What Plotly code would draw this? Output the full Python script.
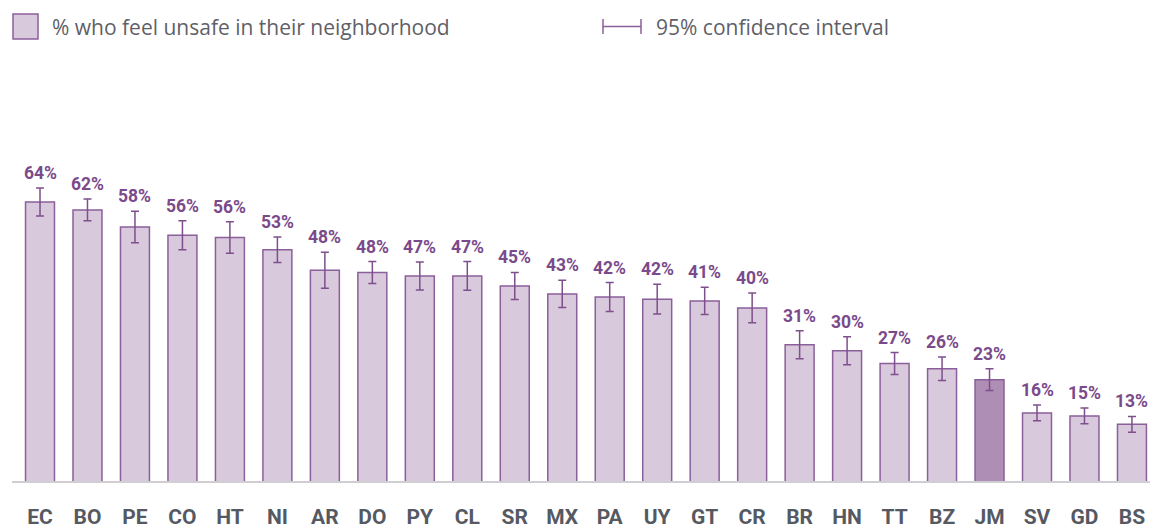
import plotly.graph_objects as go

countries = ["EC","BO","PE","CO","HT","NI","AR","DO","PY","CL","SR","MX","PA","UY","GT","CR","BR","HN","TT","BZ","JM","SV","GD","BS"]
values = [64.0,62.2,58.3,56.4,55.9,53.1,48.4,47.9,47.1,47.1,44.8,43.0,42.3,41.8,41.4,39.8,31.4,30.0,27.1,25.9,23.4,15.8,15.1,13.2]
ci_err = [3.2,2.5,3.6,3.3,3.6,2.9,4.1,2.5,3.2,3.3,3.1,3.1,3.3,3.4,3.1,3.4,3.2,3.2,2.5,2.7,2.5,1.8,1.8,1.8]
highlight = "JM"

W, H = 1150, 531
ml, mr, mt, mb = 12, 0, 60, 49
pw, ph = W - ml - mr, H - mt - mb
ymax = ph / 4.375

def px2x(px):
    return (px - ml) / pw

def py2y(py):
    return (H - mb - py) / ph

fill = ["#ae8eb4" if c == highlight else "#d8c9dc" for c in countries]

fig = go.Figure()
fig.add_trace(go.Bar(
    x=list(range(len(countries))), y=values,
    marker=dict(color=fill, line=dict(color="#8c5f9a", width=1.5)),
    error_y=dict(type="data", array=ci_err, visible=True, color="#7e4f8c", thickness=1.5, width=4),
    width=0.61, showlegend=False, hoverinfo="skip",
))

annotations = []
for i, (v, e) in enumerate(zip(values, ci_err)):
    annotations.append(dict(
        x=i, y=v + e, xref="x", yref="y", text=f"<b>{round(v)}%</b>", showarrow=False,
        yanchor="bottom", yshift=3, font=dict(family="Roboto", size=17.5, color="#7b4a8b"),
    ))

# legend
shapes = [
    dict(type="rect", xref="paper", yref="paper", x0=px2x(13), x1=px2x(38), y0=py2y(39), y1=py2y(14),
         fillcolor="#d8c9dc", line=dict(color="#8c5f9a", width=1.5)),
    dict(type="line", xref="paper", yref="paper", x0=px2x(603), x1=px2x(641), y0=py2y(26.5), y1=py2y(26.5),
         line=dict(color="#8c5f9a", width=1.3)),
    dict(type="line", xref="paper", yref="paper", x0=px2x(603), x1=px2x(603), y0=py2y(19), y1=py2y(34),
         line=dict(color="#8c5f9a", width=1.5)),
    dict(type="line", xref="paper", yref="paper", x0=px2x(641), x1=px2x(641), y0=py2y(19), y1=py2y(34),
         line=dict(color="#8c5f9a", width=1.5)),
    dict(type="line", xref="paper", yref="paper", x0=0, x1=1, y0=0, y1=0,
         line=dict(color="#cfcfd3", width=2)),
]
annotations.append(dict(x=px2x(50), y=py2y(27), xref="paper", yref="paper", xanchor="left", yanchor="middle",
                        text="% who feel unsafe in their neighborhood", showarrow=False,
                        font=dict(family="Open Sans", size=21, color="#5f5f68")))
annotations.append(dict(x=px2x(654), y=py2y(27), xref="paper", yref="paper", xanchor="left", yanchor="middle",
                        text="95% confidence interval", showarrow=False,
                        font=dict(family="Open Sans", size=21, color="#5f5f68")))

fig.update_layout(
    width=W, height=H,
    margin=dict(l=ml, r=mr, t=mt, b=mb, autoexpand=False),
    plot_bgcolor="white", paper_bgcolor="white",
    xaxis=dict(range=[-0.59, 23.38], tickmode="array", tickvals=list(range(len(countries))),
               ticktext=[f"<b>{c}</b>" for c in countries], showgrid=False, zeroline=False,
               showline=False, ticks="", ticklabelstandoff=20, automargin=False,
               tickfont=dict(family="Roboto", size=21, color="#555962")),
    yaxis=dict(range=[0, ymax], visible=False, showgrid=False, zeroline=False, automargin=False),
    shapes=shapes, annotations=annotations,
)

fig.write_html("out.html", config={"displayModeBar": False},
               post_script="document.body.style.margin='0px';document.body.style.overflow='hidden';")
